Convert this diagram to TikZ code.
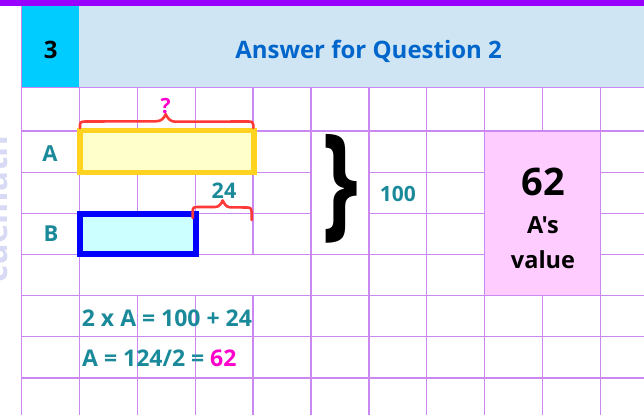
\documentclass[tikz,border=0pt]{standalone}
\usepackage{fontspec}
\setmainfont{Open Sans}
\newfontfamily\osplain{Open Sans}[Ligatures=TeXOff]
\definecolor{barpurple}{HTML}{9900FF}
\definecolor{headbg}{HTML}{CFE5F3}
\definecolor{headcyan}{HTML}{00CCFF}
\definecolor{gridc}{HTML}{CC88F2}
\definecolor{tealc}{HTML}{1A8A9A}
\definecolor{headblue}{HTML}{0066CC}
\definecolor{magc}{HTML}{FF00CC}
\definecolor{redc}{HTML}{FF3838}
\definecolor{yelb}{HTML}{FFD320}
\definecolor{yelf}{HTML}{FFFFCC}
\definecolor{blub}{HTML}{0000FF}
\definecolor{bluf}{HTML}{CCFFFF}
\definecolor{pinkf}{HTML}{FFCCFF}
\definecolor{wmc}{HTML}{D8DAF5}
\begin{document}
\begin{tikzpicture}[x=1pt,y=-1pt,
  gridline/.style={draw=gridc,line width=1.3pt},
  lbl/.style={anchor=base,inner sep=0pt,text=tealc,font=\bfseries\fontsize{22}{22}\selectfont},
  redbrace/.style={draw=redc,line width=2.6pt,line cap=round,line join=round},
  bignum/.style={anchor=base,inner sep=0pt,font=\bfseries\fontsize{38}{38}\selectfont},
  boxtext/.style={anchor=base,inner sep=0pt,font=\osplain\bfseries\fontsize{23.5}{23.5}\selectfont},
  eqtext/.style={anchor=base west,inner sep=0pt,text=tealc,font=\bfseries\fontsize{23}{23}\selectfont}]
\useasboundingbox (0,0) rectangle (644,415);
\fill[white] (0,0) rectangle (644,415);
% watermark
\node[rotate=90,anchor=base,inner sep=0pt,text=wmc,font=\bfseries\fontsize{33}{33}\selectfont] (wm) at (8,209) {cuemath};
% top bar and header
\fill[barpurple] (0,0) rectangle (644,6);
\fill[headbg] (21.5,6) rectangle (644,87.5);
\fill[headcyan] (21.5,6) rectangle (79.4,87.5);
\node[anchor=base,inner sep=0pt,font=\bfseries\fontsize{24}{24}\selectfont] (num) at (50.7,58.3) {3};
\node[anchor=base,inner sep=0pt,text=headblue,font=\bfseries\fontsize{24}{24}\selectfont] (title) at (368.6,58.3) {Answer for Question 2};
% pink answer box
\fill[pinkf] (484.7,131) rectangle (600.5,295.7);
% grid
\draw[gridline] (21.5,6) -- (21.5,415);
\foreach \x in {79.4,311,368.9,426.8,484.7,600.5} \draw[gridline] (\x,87.5) -- (\x,415);
\foreach \x in {137.3,195.2,253.1} {\draw[gridline] (\x,87.5) -- (\x,254.5); \draw[gridline] (\x,295.7) -- (\x,415);}
\draw[gridline] (542.6,87.5) -- (542.6,131);
\draw[gridline] (542.6,295.7) -- (542.6,415);
\foreach \y in {87.5,131,295.7,336.8,378} \draw[gridline] (21.5,\y) -- (644,\y);
\foreach \y in {172.2,213.3} {\draw[gridline] (21.5,\y) -- (311,\y); \draw[gridline] (368.9,\y) -- (484.7,\y); \draw[gridline] (600.5,\y) -- (644,\y);}
\draw[gridline] (21.5,254.5) -- (484.7,254.5);
\draw[gridline] (600.5,254.5) -- (644,254.5);
% bars
\draw[draw=yelb,fill=yelf,line width=5.4pt] (80,130.5) rectangle (254,172.3);
\draw[draw=blub,fill=bluf,line width=5.8pt] (80,213.7) rectangle (196,253.7);
% row labels
\node[lbl] (la) at (50,161) {A};
\node[lbl] (lb) at (51,241.7) {B};
% red braces
\draw[redbrace] (80,128) -- (80,125) .. controls (80,121.8) and (82,121.5) .. (86,121.5) -- (156,121.3) .. controls (161.5,121.3) and (164,118) .. (165.7,114.2) .. controls (167.5,118) and (170,121.5) .. (175,121.7) -- (248,121.5) .. controls (252,121.5) and (253.3,122) .. (253.3,125) -- (253.3,128);
\node[anchor=base,inner sep=0pt,text=magc,font=\bfseries\fontsize{21}{21}\selectfont] (q) at (165.7,113.3) {?};
\draw[redbrace] (192.7,218) -- (192.7,211) .. controls (192.7,207.5) and (194,207) .. (198,207) -- (215,207) .. controls (219,207) and (221,204) .. (222.7,200.5) .. controls (224.5,204) and (226,207) .. (230,207.3) -- (247,207.5) .. controls (251,207.5) and (251.7,209) .. (251.7,212) -- (251.7,220);
\node[anchor=base,inner sep=0pt,text=tealc,font=\bfseries\fontsize{21.5}{21.5}\selectfont] (n24) at (224,198.3) {24};
% big brace and total
\node[inner sep=0pt,font=\bfseries\fontsize{96}{96}\selectfont] (brace) at (340,189) {\scalebox{0.95}[1.3]{\}}};
\node[anchor=base,inner sep=0pt,text=tealc,font=\bfseries\fontsize{21}{21}\selectfont] (n100) at (397.8,201.7) {100};
% answer box text
\node[bignum] (ans) at (543,195) {62};
\node[boxtext] (as) at (543,233.3) {A's};
\node[boxtext] (val) at (543,268.3) {value};
% equations
\node[eqtext] (eq1) at (81.7,326.7) {2 x A = 100 + 24};
\node[eqtext] (eq2) at (82,366.7) {A = 124/2 = \textcolor{magc}{62}};
\end{tikzpicture}
\end{document}
